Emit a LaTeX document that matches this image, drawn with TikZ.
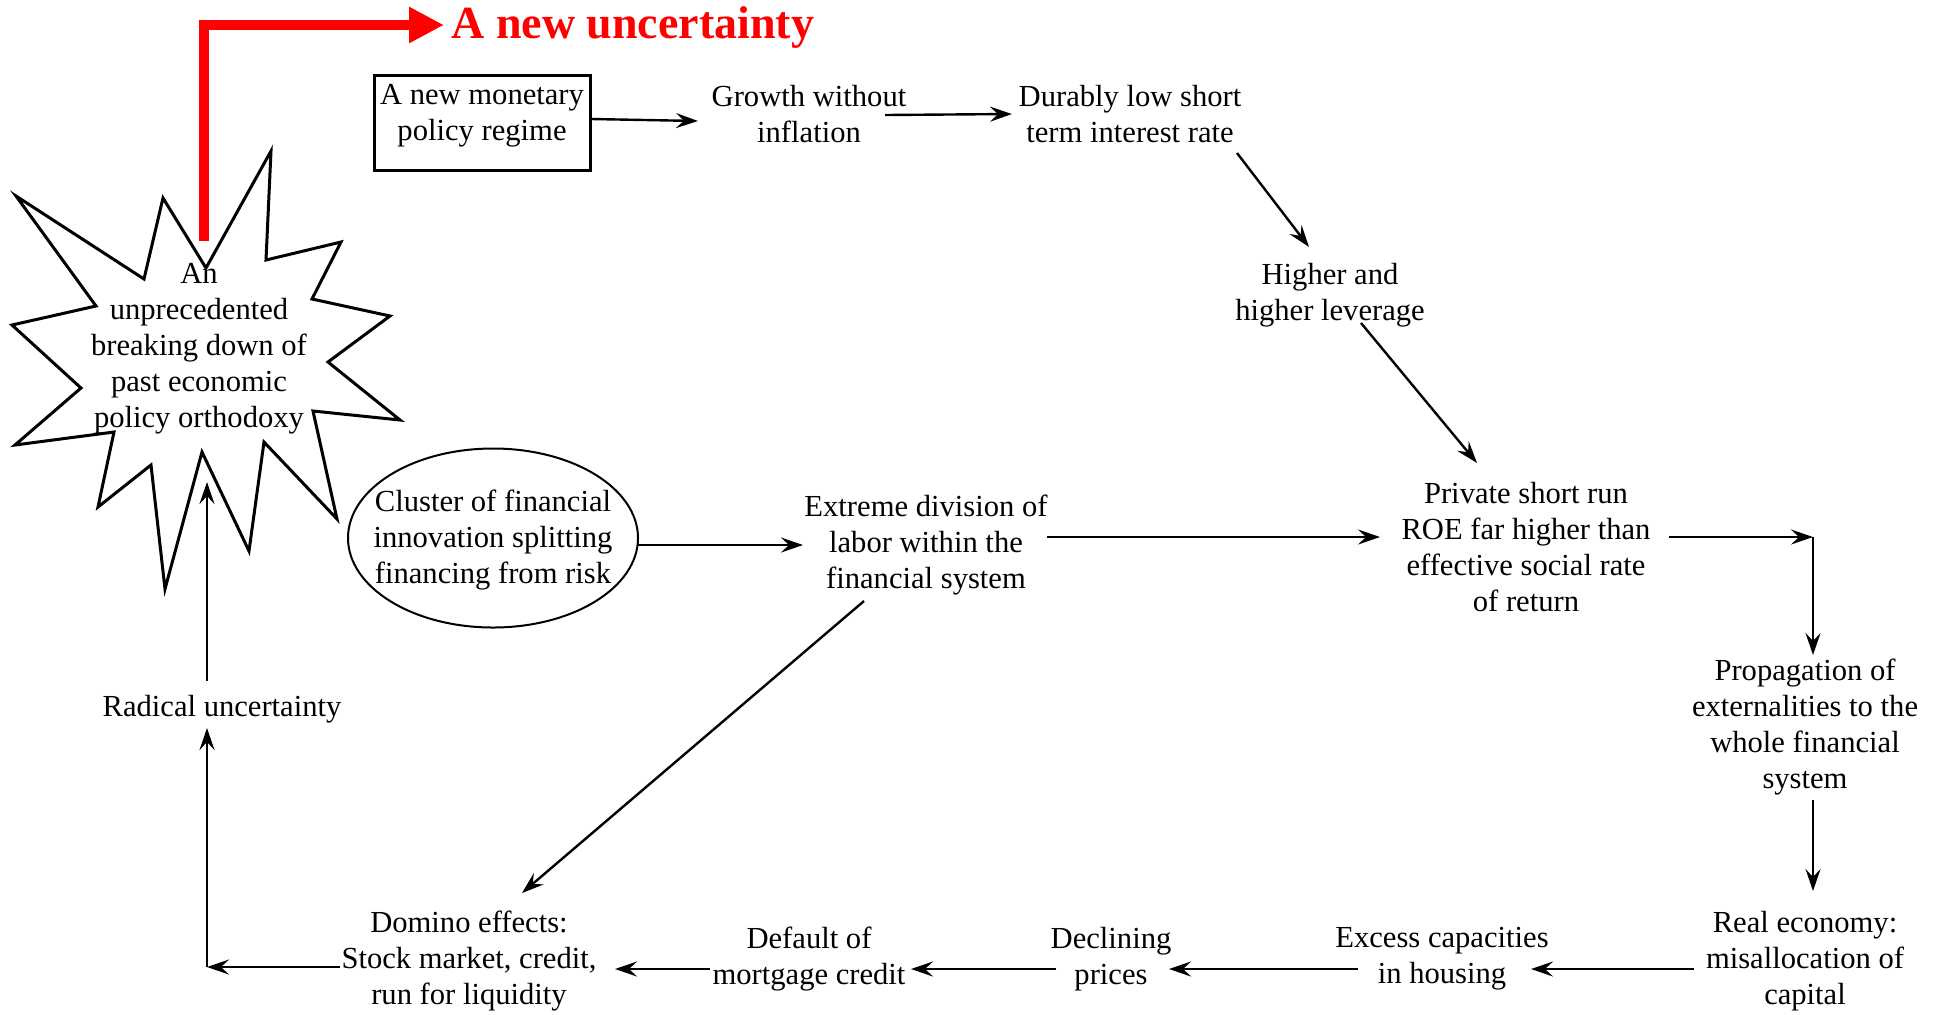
\documentclass[tikz,border=0pt]{standalone}
\usepackage{fontspec}
\setmainfont{Liberation Serif}
\usetikzlibrary{arrows.meta,calc,shapes.geometric}
\definecolor{titlered}{RGB}{255,0,0}
\begin{document}
\begin{tikzpicture}[x=0.5pt,y=-0.5pt,
  txt/.style={align=center,font=\fontsize{15.3}{18}\selectfont,inner sep=0pt},
  boxn/.style={draw,line width=1.5pt,minimum width=108pt,minimum height=47.5pt,inner sep=0pt},
  ellline/.style={draw,line width=1pt},
  arr/.style={line width=1.2pt,-{Stealth[length=11pt,width=7.5pt,inset=4pt]}},
  redarr/.style={line width=5pt,titlered,-{Triangle[length=17.5pt,width=17pt]}}]
\useasboundingbox (0,0) rectangle (1936,1014);

% starburst
\draw[line width=1.5pt,line join=miter]
 (271,151) -- (266,260) -- (341,242) -- (312,299) -- (390,316) -- (328,362) --
 (400,420) -- (313,411) -- (337,519) -- (264,442) -- (249,551) -- (202,452) --
 (165,589) -- (151,465) -- (98,507) -- (114,432) -- (15,445) -- (81,388) --
 (12,325) -- (96,306) -- (16,196) -- (144,279) -- (163,198) -- (206,268) -- cycle;

\node[txt] (star) at (199,349) {An\\unprecedented\\breaking down of\\past economic\\policy orthodoxy};
\node[txt,font=\fontsize{23}{26}\selectfont\bfseries,text=titlered,anchor=west] (title) at (451,27) {A new uncertainty};

\node[boxn] (box) at (482,123) {};
\node[txt] (boxtext) at (482,116) {A new monetary\\policy regime};
\node[txt] (growth) at (809,114) {Growth without\\inflation};
\node[txt] (durably) at (1130,114) {Durably low short\\term interest rate};
\node[txt] (higher) at (1330,295) {Higher and\\higher leverage};
\node[txt] (private) at (1526,547) {Private short run\\ROE far higher than\\effective social rate\\of return};
\node[txt] (propagation) at (1805,727) {Propagation of\\externalities to the\\whole financial\\system};
\node[txt] (real) at (1805,961) {Real economy:\\misallocation of\\capital};
\node[txt] (excess) at (1442,959) {Excess capacities\\in housing};
\node[txt] (declining) at (1111,959) {Declining\\prices};
\node[txt] (default) at (809,959) {Default of\\mortgage credit};
\node[txt] (domino) at (469,961) {Domino effects:\\Stock market, credit,\\run for liquidity};
\node[txt] (radical) at (222,709) {Radical uncertainty};
\node[txt] (cluster) at (493,540) {Cluster of financial\\innovation splitting\\financing from risk};
\draw[ellline] (493,538) ellipse [x radius=145, y radius=89.5];
\node[txt] (extreme) at (926,545) {Extreme division of\\labor within the\\financial system};

\coordinate (c1) at (1813,537);
\coordinate (c2) at (207,967);

% red arrow
\draw[redarr] ($(star)+(5,-108)$) |- ($(title.west)+(-7,-2)$);

% connectors
\draw[arr] ($(box.east)+(0,-4)$) -- ($(growth)+(-111,7)$);
\draw[arr] ($(growth)+(76,1)$) -- ($(durably)+(-118,0)$);
\draw[arr] ($(durably)+(107,39)$) -- ($(higher)+(-21,-48)$);
\draw[arr] ($(higher)+(31,28)$) -- ($(private)+(-49,-84)$);
\draw[arr] ($(extreme)+(121,-8)$) -- ($(private)+(-146,-10)$);
\draw[arr] ($(cluster)+(145,5)$) -- ($(extreme)+(-123,0)$);
\draw[arr] ($(private)+(143,-10)$) -- (c1);
\draw[arr] (c1) -- ($(propagation)+(8,-72)$);
\draw[arr] ($(propagation)+(8,73)$) -- ($(real)+(8,-70)$);
\draw[arr] ($(real)+(-111,8)$) -- ($(excess)+(89,10)$);
\draw[arr] ($(excess)+(-84,10)$) -- ($(declining)+(58,10)$);
\draw[arr] ($(declining)+(-55,10)$) -- ($(default)+(102,10)$);
\draw[arr] ($(default)+(-99,10)$) -- ($(domino)+(146,8)$);
\draw[arr] ($(domino)+(-129,6)$) -- (c2);
\draw[arr] (c2) -- ($(radical)+(-15,19)$);
\draw[arr] ($(radical)+(-15,-28)$) -- ($(star)+(8,133)$);
\draw[arr] ($(extreme)+(-62,56)$) -- ($(domino)+(53,-68)$);
\end{tikzpicture}
\end{document}
